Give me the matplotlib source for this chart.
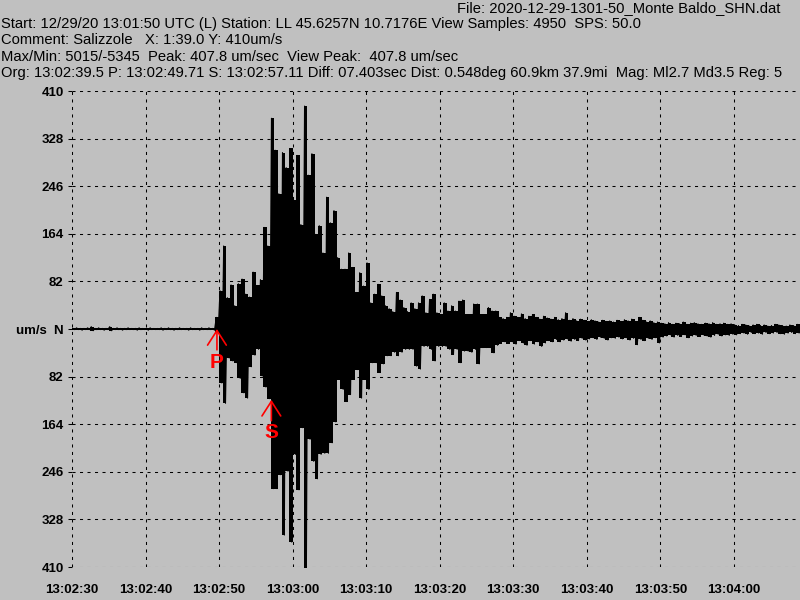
import matplotlib
matplotlib.use("Agg")
import matplotlib.pyplot as plt
import numpy as np

# header lines of the seismogram viewer
file_line = "File: 2020-12-29-1301-50_Monte Baldo_SHN.dat"
header_lines = [
    "Start: 12/29/20 13:01:50 UTC (L) Station: LL 45.6257N 10.7176E View Samples: 4950  SPS: 50.0",
    "Comment: Salizzole   X: 1:39.0 Y: 410um/s",
    "Max/Min: 5015/-5345  Peak: 407.8 um/sec  View Peak:  407.8 um/sec",
    "Org: 13:02:39.5 P: 13:02:49.71 S: 13:02:57.11 Diff: 07.403sec Dist: 0.548deg 60.9km 37.9mi  Mag: Ml2.7 Md3.5 Reg: 5",
]

# seconds after 13:02:30
x_ticks = [0, 10, 20, 30, 40, 50, 60, 70, 80, 90]
x_labels = ["13:02:30", "13:02:40", "13:02:50", "13:03:00", "13:03:10",
            "13:03:20", "13:03:30", "13:03:40", "13:03:50", "13:04:00"]
view_seconds = 99.0
y_ticks = [-410, -328, -246, -164, -82, 0, 82, 164, 246, 328, 410]
y_labels = ["410", "328", "246", "164", "82", "um/s  N", "82", "164", "246", "328", "410"]

p_time = 19.71
s_time = 27.11

# trace: max / min in um/s for every 0.5 s, from 13:02:30
step = 0.5
trace_max = [
    1, 2, 1, 1, 2, 4, 1, 2, 1, 1,
    4, 1, 2, 1, 1, 2, 1, 1, 2, 1,
    1, 2, 1, 1, 2, 1, 2, 1, 1, 2,
    1, 1, 2, 1, 1, 2, 1, 2, 1, 20,
    66, 143, 54, 76, 40, 78, 86, 60, 55, 98,
    75, 85, 175, 143, 363, 308, 233, 304, 278, 311,
    222, 299, 180, 384, 265, 302, 163, 178, 131, 227,
    183, 204, 123, 103, 103, 131, 106, 63, 97, 74,
    114, 45, 60, 77, 57, 40, 35, 30, 63, 50,
    37, 30, 45, 35, 45, 57, 28, 51, 60, 28,
    25, 45, 31, 40, 31, 48, 50, 25, 25, 43,
    43, 25, 25, 37, 31, 31, 20, 18, 20, 28,
    22, 20, 26, 18, 22, 25, 20, 17, 22, 19,
    17, 20, 16, 18, 28, 15, 18, 14, 17, 15,
    13, 16, 14, 12, 15, 13, 14, 12, 15, 13,
    16, 14, 17, 13, 20, 15, 12, 14, 11, 12,
    10, 9, 11, 8, 10, 9, 12, 8, 10, 11,
    9, 8, 10, 9, 11, 8, 9, 10, 8, 9,
    7, 6, 8, 7, 5, 7, 8, 6, 7, 5,
    6, 8, 7, 6, 5, 7, 6, 8, 6,
]
trace_min = [
    -1, -1, -2, -1, -1, -3, -1, -1, -2, -1,
    -3, -1, -1, -2, -1, -1, -1, -2, -1, -1,
    -2, -1, -1, -1, -2, -1, -1, -2, -1, -1,
    -1, -2, -1, -1, -2, -1, -1, -1, -2, -5,
    -93, -128, -50, -55, -58, -85, -110, -119, -65, -45,
    -35, -81, -100, -120, -275, -275, -251, -355, -245, -367,
    -216, -277, -170, -413, -190, -228, -258, -216, -214, -214,
    -196, -160, -87, -104, -125, -113, -87, -70, -119, -87,
    -104, -58, -58, -75, -60, -46, -46, -40, -46, -40,
    -35, -35, -35, -64, -69, -30, -30, -35, -55, -30,
    -30, -30, -35, -44, -35, -58, -38, -38, -40, -35,
    -60, -32, -32, -32, -41, -28, -25, -22, -25, -22,
    -26, -20, -24, -28, -20, -26, -22, -30, -24, -20,
    -22, -18, -22, -19, -17, -21, -18, -20, -16, -19,
    -17, -15, -18, -14, -16, -19, -15, -16, -14, -17,
    -15, -19, -16, -27, -18, -20, -16, -18, -15, -24,
    -14, -12, -10, -14, -11, -13, -10, -15, -12, -11,
    -13, -10, -12, -14, -11, -9, -12, -10, -11, -9,
    -10, -8, -7, -9, -6, -8, -7, -9, -6, -8,
    -7, -6, -8, -9, -7, -6, -8, -7, -8,
]

bg = "#c0c0c0"
plt.rcParams["font.family"] = ["Liberation Sans", "DejaVu Sans"]
plt.rcParams["lines.scale_dashes"] = False

fig = plt.figure(figsize=(8, 6), dpi=100, facecolor=bg)
ax = fig.add_axes([72 / 800, 33 / 600, 728 / 800, 476 / 600], facecolor=bg)

# solid band between max and min of each bin, plus a zigzag through the extremes
n = len(trace_max)
t = np.arange(n) * step
ax.fill_between(t, trace_min, trace_max, step="post", color="black", lw=0, zorder=3)
tt = np.empty(2 * n)
yy = np.empty(2 * n)
tt[0::2] = t + step * 0.25
tt[1::2] = t + step * 0.75
yy[0::2] = trace_max
yy[1::2] = trace_min
ax.plot(tt, yy, color="black", lw=0.8, zorder=3)

ax.set_xlim(0, view_seconds)
ax.set_ylim(-410, 410)
ax.set_xticks(x_ticks)
ax.set_xticklabels(x_labels)
ax.set_yticks(y_ticks)
ax.set_yticklabels(y_labels)
for s in ax.spines.values():
    s.set_visible(False)
ax.grid(True, color="black", lw=0.75, linestyle=(0, (2.2, 3.2)))
ax.tick_params(axis="x", length=0, pad=12, labelsize=9.5)
ax.tick_params(axis="y", length=3, width=0.75, direction="out", pad=3, labelsize=9.5)
for lab in ax.get_xticklabels() + ax.get_yticklabels():
    lab.set_fontweight("bold")

# P and S picks
pick_style = dict(textcoords="offset points", ha="center", va="top", color="red",
                  fontsize=15, fontweight="bold",
                  arrowprops=dict(arrowstyle="->,head_length=0.7,head_width=0.45",
                                  color="red", lw=1.2, shrinkA=0, shrinkB=0))
ax.annotate("P", xy=(p_time, 0), xytext=(0, -17), zorder=5, **pick_style)
ax.annotate("S", xy=(s_time, -122), xytext=(0, -17), zorder=5, **pick_style)

# header text
fig.text(780 / 800, 1 - 8 / 600, file_line, ha="right", va="center", fontsize=10.6)
for k, line in enumerate(header_lines):
    fig.text(1 / 800, 1 - (24 + 16.4 * k) / 600, line, ha="left", va="center", fontsize=10.6)

fig.savefig("out.png", dpi=100, facecolor=bg)
